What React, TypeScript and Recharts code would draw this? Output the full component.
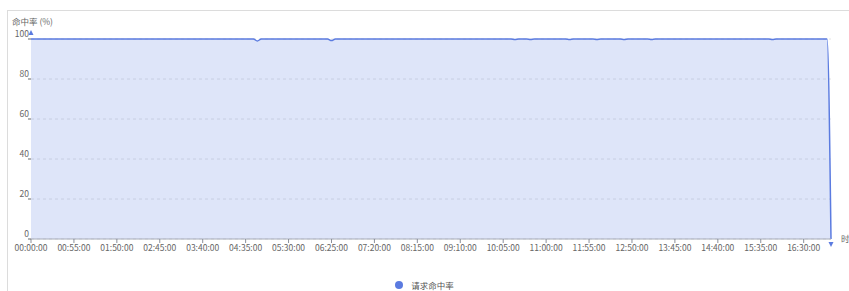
import { AreaChart, Area, XAxis, YAxis, CartesianGrid, ReferenceDot } from "recharts"

// 5-minute samples from 00:00:00 to 17:05:00
const START_MIN = 0
const STEP_MIN = 5
const HIT_RATE: number[] = [
  100, 100, 100, 100, 100, 100, 100, 100, 100, 100, 100, 100, 100, 100, 100, 100, 100, 100, 100, 100,
  100, 100, 100, 100, 100, 100, 100, 100, 100, 100, 100, 100, 100, 100, 100, 100, 100, 100, 100, 100,
  100, 100, 100, 100, 100, 100, 100, 100, 100, 100, 100, 100, 100, 100, 100, 100, 100, 100, 99.0, 100,
  100, 100, 100, 100, 100, 100, 100, 100, 100, 100, 100, 100, 100, 100, 100, 100, 100, 99.2, 100, 100,
  100, 100, 100, 100, 100, 100, 100, 100, 100, 100, 100, 100, 100, 100, 100, 100, 100, 100, 100, 100,
  100, 100, 100, 100, 100, 100, 100, 100, 100, 100, 100, 100, 100, 100, 100, 100, 100, 100, 100, 100,
  100, 100, 100, 100, 99.7, 100, 100, 100, 99.7, 100, 100, 100, 100, 100, 100, 100, 100, 100, 99.8, 100,
  100, 100, 100, 100, 100, 99.7, 100, 100, 100, 100, 100, 100, 99.8, 100, 100, 100, 100, 100, 100, 99.8,
  100, 100, 100, 100, 100, 100, 100, 100, 100, 100, 100, 100, 100, 100, 100, 100, 100, 100, 100, 100,
  100, 100, 100, 100, 100, 100, 100, 100, 100, 100, 99.8, 100, 100, 100, 100, 100, 100, 100, 100, 100,
  100, 100, 100, 100, 100, 0,
]
const Y_TICKS = [0, 20, 40, 60, 80, 100]

const SERIES_NAME = "请求命中率"
const Y_NAME = "命中率 (%)"
const X_NAME = "时"

const BLUE = "#5b7be0"
const FONT = '"Noto Sans CJK SC", "Noto Sans", sans-serif'

const pad = (n: number) => String(n).padStart(2, "0")
const fmt = (m: number) => `${pad(Math.floor(m / 60))}:${pad(m % 60)}:00`

const data = HIT_RATE.map((v, i) => ({ t: fmt(START_MIN + i * STEP_MIN), v }))

const UpArrow = (p: any) => (
  <path d={`M${p.cx - 2.5},${p.cy - 4} L${p.cx + 2.5},${p.cy - 4} L${p.cx},${p.cy - 9} Z`} fill={BLUE} />
)
const DownArrow = (p: any) => (
  <path d={`M${p.cx - 2.5},${p.cy + 3} L${p.cx + 2.5},${p.cy + 3} L${p.cx},${p.cy + 8} Z`} fill={BLUE} />
)

export default function App() {
  return (
    <div style={{ position: "absolute", left: 0, top: 0, width: 849, height: 291, overflow: "hidden", background: "#fff", fontFamily: FONT }}>
      <div style={{ position: "absolute", left: 7, top: 10, width: 900, height: 300, borderTop: "1px solid #dcdcdc", borderLeft: "1px solid #dcdcdc" }} />
      <div style={{ position: "absolute", left: 12, top: 15, fontSize: 8.5, color: "#666" }}>{Y_NAME}</div>
      <div style={{ position: "absolute", left: 841, top: 232, fontSize: 8.5, color: "#666" }}>{X_NAME}</div>
      <AreaChart
        width={849}
        height={291}
        data={data}
        margin={{ top: 39, right: 18, bottom: 22, left: 0 }}
        style={{ position: "absolute", left: 0, top: 0 }}
      >
        <CartesianGrid vertical={false} stroke="#e4e4e4" strokeDasharray="3 3" />
        <XAxis
          dataKey="t"
          interval={10}
          height={30}
          stroke="#a8adb8"
          tickSize={4}
          tick={{ fill: "#666", fontSize: 8.5, fontFamily: FONT }}
          tickLine={{ stroke: "#8a8f9a" }}
        />
        <YAxis
          width={31}
          domain={[0, 100]}
          ticks={Y_TICKS}
          axisLine={false}
          tickSize={3}
          tickLine={{ stroke: "#666" }}
          tick={{ fill: "#666", fontSize: 8.5, fontFamily: FONT, dy: -5, dx: 3 }}
        />
        <Area
          type="monotone"
          dataKey="v"
          name={SERIES_NAME}
          stroke={BLUE}
          strokeWidth={1.5}
          fill={BLUE}
          fillOpacity={0.2}
          dot={false}
          activeDot={false}
          isAnimationActive={false}
        />
        <ReferenceDot x={data[0].t} y={100} ifOverflow="visible" shape={UpArrow} />
        <ReferenceDot x={data[data.length - 1].t} y={0} ifOverflow="visible" shape={DownArrow} />
      </AreaChart>
      <div style={{ position: "absolute", left: 0, width: 849, top: 279, display: "flex", justifyContent: "center", alignItems: "center", fontSize: 8.5, color: "#555" }}>
        <span style={{ display: "inline-block", width: 8, height: 8, borderRadius: 4, background: BLUE, marginRight: 8, marginLeft: 0 }} />
        <span>{SERIES_NAME}</span>
      </div>
    </div>
  )
}
